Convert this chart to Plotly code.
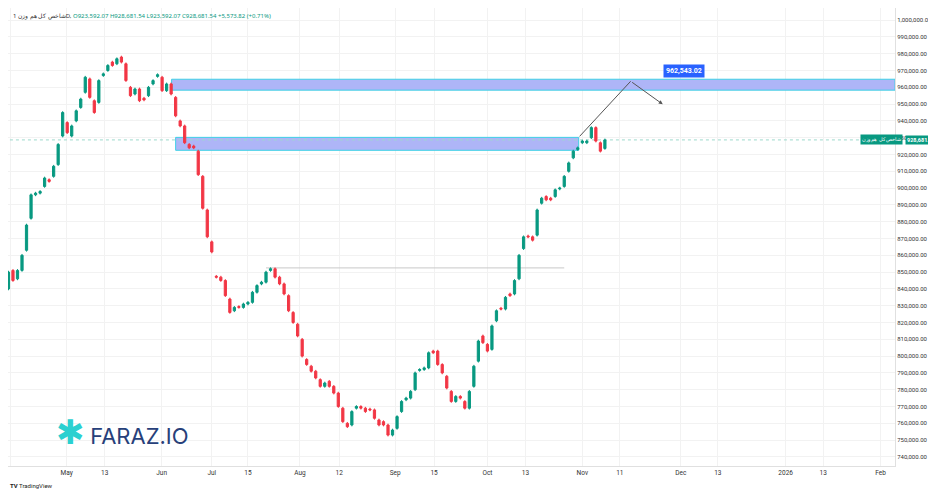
import plotly.graph_objects as go

bars = [
(840,850),(851,845),(846,851),(851,860),(863,878),(882,896),(896,897),(897,898),(901,906),(905,904),
(907,913),(914,926),(931,945),(939,933),(931,937),(940,946),(948,953),(957,966),(965,954),(952,945),
(951,964),(967,968),(970,973),(975,973),(974,977),(978,975),(974,964),(960,955),(956,959),(959,952),
(953.5,952.5),(955,960),(962,964),(966.5,967.5),(966,958),(958,962),(962,956),(954,943),(940,937),(937,927),
(926,924),(925,924),(922,908),(907,888),(887,871),(868,862),(847.5,847),(847,845),(845,836),(834,826),
(827,829),(829.5,829),(829,831),(831,832),(832,838),(838,842),(843,844),(844,850),(851,852),(852,847),
(847,843),(843,837),(836,827),(826,820),(819,812),(810,800),(798,795),(794,791),(791,787),(786,782),
(782,784),(785,782),(782,778),(778,770),(769,761),(760,758),(759,767),(769,770),(770,769),(769,767),
(768.5,768),(768,763),(762,759),(761,759),(759,753),(753,756),(757,764),(767,773),(774,775),(775,779),
(780,790),(791.5,792),(792,793),(793,802),(803,802),(803,795),(795,790),(788,781),(779,773),(773,776),
(776,775),(773,769),(769,779),(782,794),(797,809),(812,808),(807,803),(804,818),(821,827),(828.5,828),
(828,835),(837,836),(837,845),(846,860),(864,871),(871.5,871),(871,869),(872,887),(891,894),(895,893),
(894,893),(895,899),(899.5,900),(901,907),(910,915),(918,922),(923,924),(927,928),(927,928),(930,936),
(936,928),(927,922),(923.592,928.682)]
opens = [b[0]*1000 for b in bars]
closes = [b[1]*1000 for b in bars]
WICK = 800
highs = [max(o, c) + WICK for o, c in zip(opens, closes)]
lows = [min(o, c) - WICK for o, c in zip(opens, closes)]
xs = list(range(len(bars)))

tick_pos = [0.4, 12.9, 21.3, 33.9, 45, 53, 64.5, 73.2, 85.6, 94.2, 106, 114.4, 127, 135.3, 148.8, 157, 172, 180.3, 193]
tick_txt = ["15", "May", "13", "Jun", "Jul", "15", "Aug", "12", "Sep", "15", "Oct", "13", "Nov", "11", "Dec", "13", "2026", "13", "Feb"]
ytick_vals = list(range(740000, 1000001, 10000))
ytick_txt = [f"{v:,.2f}" for v in ytick_vals]

last_close = 928681.54
zone_top = (36.1, 196.2, 958300, 964800)
zone_low = (37, 126.2, 922500, 930200)
path_x = [126.4, 137.7]
path_y = [930800, 963600]
arrow_end = (144.8, 949900)
target_label = "962,543.02"
resistance = (57, 123, 852500)

fig = go.Figure()
for x0, x1, y0, y1 in [zone_top, zone_low]:
    fig.add_shape(type="rect", x0=x0, x1=x1, y0=y0, y1=y1, fillcolor="#aeb5f7",
                  line=dict(color="#3fd1e6", width=1), layer="between")
fig.add_shape(type="line", x0=resistance[0], x1=resistance[1], y0=resistance[2], y1=resistance[2],
              line=dict(color="#c8c8c8", width=1), layer="between")
fig.add_shape(type="line", x0=-1, x1=196.5, y0=last_close, y1=last_close,
              line=dict(color="#9ed9cc", width=1, dash="dot"), layer="between")
fig.add_trace(go.Candlestick(x=xs, open=opens, high=highs, low=lows, close=closes,
    increasing=dict(line=dict(color="#089981", width=1), fillcolor="#089981"),
    decreasing=dict(line=dict(color="#f23645", width=1), fillcolor="#f23645"),
    whiskerwidth=0, showlegend=False, hoverinfo="skip"))
fig.add_trace(go.Scatter(x=path_x, y=path_y, mode="lines", line=dict(color="#555", width=1), showlegend=False))
fig.add_annotation(x=arrow_end[0], y=arrow_end[1], ax=path_x[1], ay=path_y[1], axref="x", ayref="y",
                   xref="x", yref="y", showarrow=True, arrowhead=2, arrowsize=0.8, arrowwidth=1,
                   arrowcolor="#555", text="")
fig.add_annotation(x=145.5, y=966500, xref="x", yref="y", text=f"<b>{target_label}</b>", showarrow=True,
                   ax=149.5, ay=969800, axref="x", ayref="y", arrowhead=0, arrowcolor="#2962ff", arrowwidth=2,
                   bgcolor="#2962ff", font=dict(color="white", size=7, family="Roboto"), borderpad=2)
fig.add_annotation(x=1, xref="paper", xanchor="left", xshift=10, y=last_close, yref="y",
                   text=f"<b>{last_close:,.2f}</b>", showarrow=False, bgcolor="#089981",
                   font=dict(color="white", size=5.5, family="Roboto"), borderpad=1)
fig.add_annotation(x=1, xref="paper", xanchor="right", xshift=8, y=last_close, yref="y",
                   text="شاخص کل هم وزن", showarrow=False, bgcolor="#089981",
                   font=dict(color="white", size=5, family="Noto Sans"), borderpad=1)
fig.add_annotation(x=0.003, xref="paper", y=0.995, yref="paper", xanchor="left", yanchor="top", showarrow=False,
    text="شاخص کل هم وزن 1D, <span style='color:#089981'>O923,592.07 H928,681.54 L923,592.07 C928,681.54 +5,573.82 (+0.71%)</span>",
    font=dict(size=6, family="Noto Sans", color="#333"))
fig.add_annotation(x=0.052, xref="paper", y=0.075, yref="paper", xanchor="left", yanchor="middle", showarrow=False,
    text="<span style='color:#2bd0d0;font-size:34px'>✱</span> <span style='color:#27407a'>FARAZ.IO</span>",
    font=dict(size=22, family="Inter", color="#27407a"))
fig.add_annotation(x=0.0, xref="paper", y=-0.03, yref="paper", xanchor="left", yanchor="top", showarrow=False,
    text="<b>TV</b> TradingView", font=dict(size=6, family="Roboto", color="#222"))

fig.update_layout(width=936, height=492, margin=dict(l=0, r=49, t=0, b=34),
    paper_bgcolor="white", plot_bgcolor="white", font=dict(family="Roboto", size=6.5, color="#333"),
    xaxis=dict(range=[-0.1, 196.2], tickvals=tick_pos, ticktext=tick_txt, showgrid=True, gridcolor="#f2f2f2",
               rangeslider=dict(visible=False), zeroline=False, showline=True, linecolor="#e0e0e0", ticks="",
               tickfont=dict(size=6.5)),
    yaxis=dict(side="right", range=[734600, 1007200], tickvals=ytick_vals, ticktext=ytick_txt, showgrid=True,
               gridcolor="#f2f2f2", zeroline=False, showline=True, linecolor="#e0e0e0", ticks="",
               tickfont=dict(size=6)))
fig.write_html("out.html")
